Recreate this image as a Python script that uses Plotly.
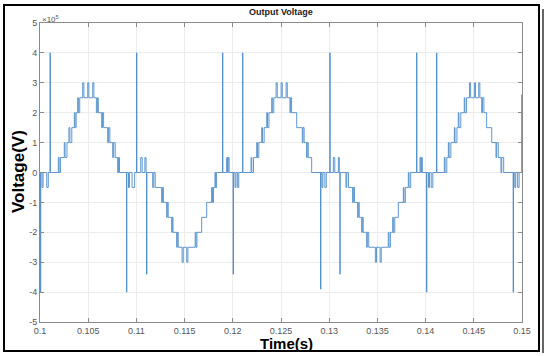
import plotly.graph_objects as go

# Breakpoints of the step waveform: (time [s], voltage [x1e5 V])
# each value holds from its time until the next breakpoint
time_s = [
    0.10000, 0.10004, 0.10008, 0.10021, 0.10032, 0.10070, 0.10086, 0.10104, 0.10108,
    0.10190, 0.10198, 0.10212, 0.10252, 0.10260, 0.10280, 0.10300, 0.10310, 0.10330,
    0.10356, 0.10364, 0.10375, 0.10391, 0.10398, 0.10412, 0.10443, 0.10455, 0.10495,
    0.10507, 0.10547, 0.10559, 0.10585, 0.10595, 0.10605, 0.10640, 0.10648, 0.10660,
    0.10702, 0.10712, 0.10725, 0.10754, 0.10764, 0.10780, 0.10806, 0.10814, 0.10825,
    0.10897, 0.10901, 0.10918, 0.10928, 0.10955, 0.10982, 0.11001, 0.11005, 0.11045,
    0.11060, 0.11088, 0.11100, 0.11105, 0.11109,
    0.11169, 0.11180, 0.11195, 0.11262, 0.11270, 0.11280, 0.11314, 0.11320, 0.11330,
    0.11366, 0.11372, 0.11380, 0.11418, 0.11424, 0.11434, 0.11474, 0.11486, 0.11522,
    0.11534, 0.11610, 0.11618, 0.11628, 0.11677, 0.11729, 0.11780, 0.11790, 0.11800,
    0.11815, 0.11822, 0.11832,
    0.11893, 0.11897, 0.11936, 0.11946, 0.11952, 0.11962, 0.12003, 0.12007, 0.12023,
    0.12033, 0.12050, 0.12062, 0.12101, 0.12105,
    0.12189, 0.12197, 0.12215, 0.12248, 0.12256, 0.12270, 0.12300, 0.12308, 0.12325,
    0.12352, 0.12360, 0.12375, 0.12404, 0.12410, 0.12425, 0.12449, 0.12461, 0.12501,
    0.12513, 0.12553, 0.12565, 0.12593, 0.12600, 0.12610, 0.12663, 0.12721, 0.12728,
    0.12740, 0.12766, 0.12772, 0.12783, 0.12818,
    0.12910, 0.12914, 0.12925, 0.12935, 0.12955, 0.12970, 0.13006, 0.13010, 0.13043,
    0.13058, 0.13095, 0.13105, 0.13110, 0.13114,
    0.13174, 0.13182, 0.13200, 0.13243, 0.13250, 0.13262, 0.13295, 0.13302, 0.13312,
    0.13337, 0.13343, 0.13353, 0.13389, 0.13395, 0.13410, 0.13479, 0.13491, 0.13528,
    0.13540, 0.13613, 0.13620, 0.13635, 0.13659, 0.13665, 0.13680, 0.13717, 0.13769,
    0.13776, 0.13790, 0.13821, 0.13828, 0.13845,
    0.13906, 0.13910, 0.13942, 0.13950, 0.13958, 0.13966, 0.14009, 0.14013, 0.14030,
    0.14040, 0.14058, 0.14075, 0.14113, 0.14117,
    0.14194, 0.14202, 0.14220, 0.14236, 0.14244, 0.14262, 0.14298, 0.14305, 0.14325,
    0.14339, 0.14346, 0.14365, 0.14401, 0.14408, 0.14425, 0.14455, 0.14467, 0.14506,
    0.14518, 0.14551, 0.14563, 0.14582, 0.14590, 0.14605, 0.14633, 0.14686, 0.14730,
    0.14737, 0.14754, 0.14782, 0.14790, 0.14810,
    0.14908, 0.14912, 0.14925, 0.14935, 0.14955, 0.14970, 0.14996, 0.15000,
]
voltage_e5 = [
    0, -4.0, 0, -0.5, 0, -0.5, 0, 4.0, 0,
    0.5, 0, 0.5, 1, 0.5, 1, 1.5, 1, 1.5,
    2, 1.5, 2, 2.5, 2, 2.5, 3, 2.5, 3,
    2.5, 3, 2.5, 2, 2.5, 2, 1.5, 2, 1.5,
    1, 1.5, 1, 0.5, 1, 0.5, 0, 0.5, 0,
    -4.0, 0, -0.5, 0, -0.5, 0, 4.0, 0, 0.5,
    0, 0.5, 0, -3.4, 0,
    -0.5, 0, -0.5, -1, -0.5, -1, -1.5, -1, -1.5,
    -2, -1.5, -2, -2.5, -2, -2.5, -3, -2.5, -3,
    -2.5, -2, -2.5, -2, -1.5, -1, -0.5, -1, -0.5,
    0, -0.5, 0,
    4.0, 0, 0.5, 0, 0.5, 0, -3.4, 0, -0.5,
    0, -0.5, 0, 4.0, 0,
    0.5, 0, 0.5, 1, 0.5, 1, 1.5, 1, 1.5,
    2, 1.5, 2, 2.5, 2, 2.5, 3, 2.5, 3,
    2.5, 3, 2.5, 2, 2.5, 2, 1.5, 1, 1.5,
    1, 0.5, 1, 0.5, 0,
    -3.9, 0, -0.5, 0, -0.5, 0, 4.0, 0, 0.5,
    0, 0.5, 0, -3.4, 0,
    -0.5, 0, -0.5, -1, -0.5, -1, -1.5, -1, -1.5,
    -2, -1.5, -2, -2.5, -2, -2.5, -3, -2.5, -3,
    -2.5, -2, -2.5, -2, -1.5, -2, -1.5, -1, -0.5,
    -1, -0.5, 0, -0.5, 0,
    4.0, 0, 0.5, 0, 0.5, 0, -4.0, 0, -0.5,
    0, -0.5, 0, 4.0, 0,
    0.5, 0, 0.5, 1, 0.5, 1, 1.5, 1, 1.5,
    2, 1.5, 2, 2.5, 2, 2.5, 3, 2.5, 3,
    2.5, 3, 2.5, 2, 2.5, 2, 1.5, 1, 0.5,
    1, 0.5, 0, 0.5, 0,
    -4.0, 0, -0.5, 0, -0.5, 0, 2.6, 2.6,
]

x_ticks = [0.1, 0.105, 0.11, 0.115, 0.12, 0.125, 0.13, 0.135, 0.14, 0.145, 0.15]
x_tick_text = ["0.1", "0.105", "0.11", "0.115", "0.12", "0.125", "0.13", "0.135", "0.14", "0.145", "0.15"]
y_ticks = [-5, -4, -3, -2, -1, 0, 1, 2, 3, 4, 5]
y_tick_text = [str(v) for v in y_ticks]

fig = go.Figure()
fig.add_trace(go.Scatter(
    x=time_s, y=voltage_e5, mode="lines", line_shape="hv",
    line=dict(color="#4d8bc8", width=0.9), showlegend=False, hoverinfo="skip",
))

FONT = "Liberation Sans, Arial, sans-serif"
axis_common = dict(
    showline=True, linecolor="#8a8a8a", linewidth=1, mirror="ticks",
    ticks="inside", ticklen=4, tickcolor="#8a8a8a",
    showgrid=True, gridcolor="#ececec", gridwidth=1, zeroline=False,
    tickfont=dict(family=FONT, size=9, color="#555555"),
)
fig.update_xaxes(range=[0.1, 0.15], tickvals=x_ticks, ticktext=x_tick_text, **axis_common)
fig.update_yaxes(range=[-5, 5], tickvals=y_ticks, ticktext=y_tick_text, **axis_common)

W, H = 550, 356
L, R, T, B = 40, 28, 23, 34
pw, ph = W - L - R, H - T - B
def px(xpix):
    return (xpix - L) / pw
def py(ypix):
    return (H - B - ypix) / ph

fig.update_layout(
    width=W, height=H, margin=dict(l=L, r=R, t=T, b=B),
    paper_bgcolor="white", plot_bgcolor="white",
    font=dict(family=FONT),
    annotations=[
        dict(text="<b>Output Voltage</b>", x=0.5, y=py(12), xref="paper", yref="paper",
             showarrow=False, font=dict(family=FONT, size=9, color="#222222"),
             xanchor="center", yanchor="middle"),
        dict(text="×10<sup>5</sup>", x=px(40), y=py(19), xref="paper", yref="paper",
             showarrow=False, font=dict(family=FONT, size=8, color="#555555"),
             xanchor="left", yanchor="middle"),
        dict(text="<b>Voltage(V)</b>", x=px(18), y=py(172), xref="paper", yref="paper",
             showarrow=False, textangle=-90, font=dict(family=FONT, size=17, color="black"),
             xanchor="center", yanchor="middle"),
        dict(text="<b>Time(s)</b>", x=px(286), y=py(343), xref="paper", yref="paper",
             showarrow=False, font=dict(family=FONT, size=15, color="black"),
             xanchor="center", yanchor="middle"),
    ],
    shapes=[
        dict(type="rect", xref="paper", yref="paper",
             x0=px(4), x1=px(539), y0=py(351), y1=py(5),
             line=dict(color="black", width=2), fillcolor="rgba(0,0,0,0)", layer="below"),
        dict(type="line", xref="paper", yref="paper",
             x0=px(543), x1=px(543), y0=py(353), y1=py(9),
             line=dict(color="#333333", width=1.5)),
    ],
)

fig.write_html(
    "out.html",
    config={"displayModeBar": False},
    post_script="document.body.style.margin='0px';document.body.style.overflow='hidden';",
)
